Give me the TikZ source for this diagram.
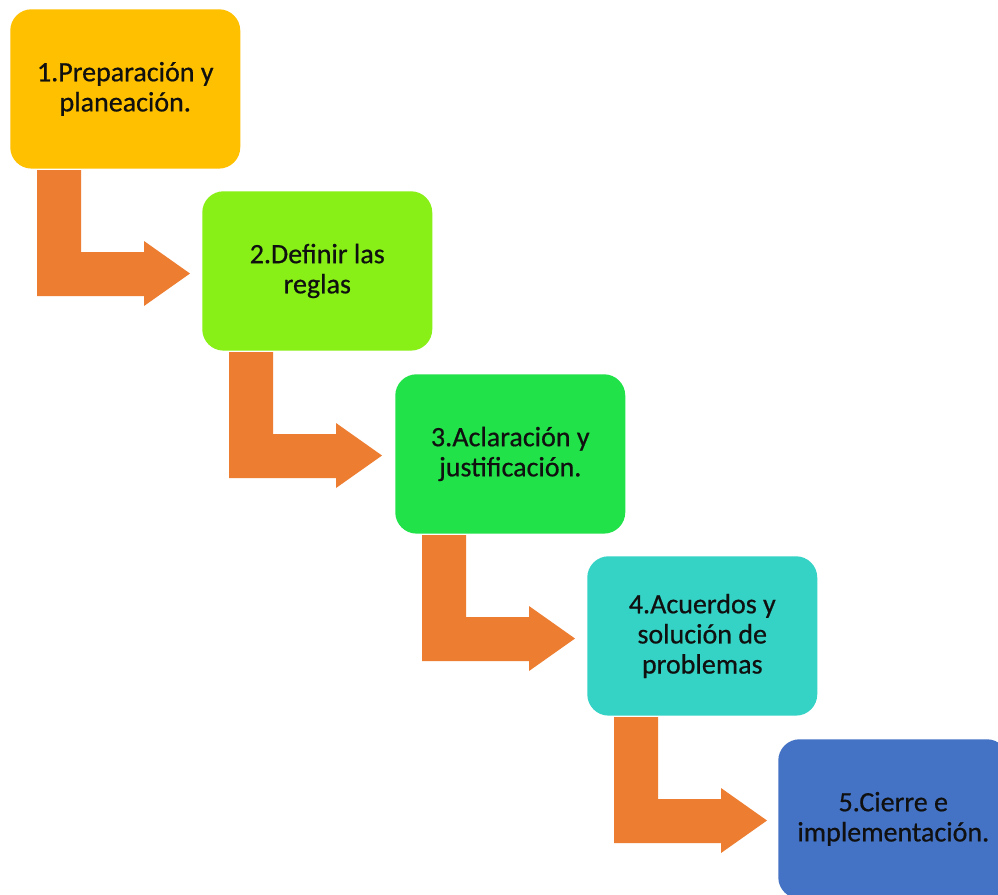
\documentclass[tikz,border=0pt]{standalone}
\usepackage{fontspec}
\setmainfont{Carlito}
\newfontfamily\stepfont{Carlito}[FakeBold=0.6]
\usetikzlibrary{calc}
\definecolor{stepyellow}{HTML}{FFC000}
\definecolor{steplime}{HTML}{88F016}
\definecolor{stepgreen}{HTML}{22E24A}
\definecolor{stepteal}{HTML}{35D3C5}
\definecolor{stepblue}{HTML}{4472C4}
\definecolor{bentorange}{HTML}{ED7D31}
\definecolor{steptext}{HTML}{101010}
\tikzset{
  stepbox/.style={draw=none, rounded corners=16pt, anchor=north west,
    minimum width=172.5pt, minimum height=119.5pt, inner sep=0pt,
    align=center, text=steptext,
    font=\stepfont\fontsize{21}{22.6}\selectfont},
  bentarrow/.style={fill=bentorange, draw=none}
}
% one bent arrow hanging below a box, pointing right into the next box
\newcommand{\bentfrom}[1]{%
  \fill[bentarrow]
    ($(#1.north west)+(27,161)$) -- ($(#1.north west)+(71,161)$)
    -- ($(#1.north west)+(71,243)$) -- ($(#1.north west)+(134,243)$)
    -- ($(#1.north west)+(134,232)$) -- ($(#1.north west)+(180,264.5)$)
    -- ($(#1.north west)+(134,297)$) -- ($(#1.north west)+(134,287)$)
    -- ($(#1.north west)+(27,287)$) -- cycle;}
\begin{document}
\begin{tikzpicture}[x=0.75pt, y=-0.75pt]
  \useasboundingbox (0,0) rectangle (998,894);
  \clip (0,0) rectangle (998,894);
  \fill[white] (0,0) rectangle (998,894);

  \node[stepbox, fill=stepyellow] (b1) at (10,9)    {1.Preparación y\\planeación.};
  \node[stepbox, fill=steplime]   (b2) at (202,191) {2.Definir las\\reglas};
  \node[stepbox, fill=stepgreen]  (b3) at (395,374) {3.Aclaración y\\justificación.};
  \node[stepbox, fill=stepteal]   (b4) at (587,556) {4.Acuerdos y\\solución de\\problemas};
  \node[stepbox, fill=stepblue]   (b5) at (778,739) {5.Cierre e\\implementación.};

  \bentfrom{b1}
  \bentfrom{b2}
  \bentfrom{b3}
  \bentfrom{b4}
\end{tikzpicture}
\end{document}
